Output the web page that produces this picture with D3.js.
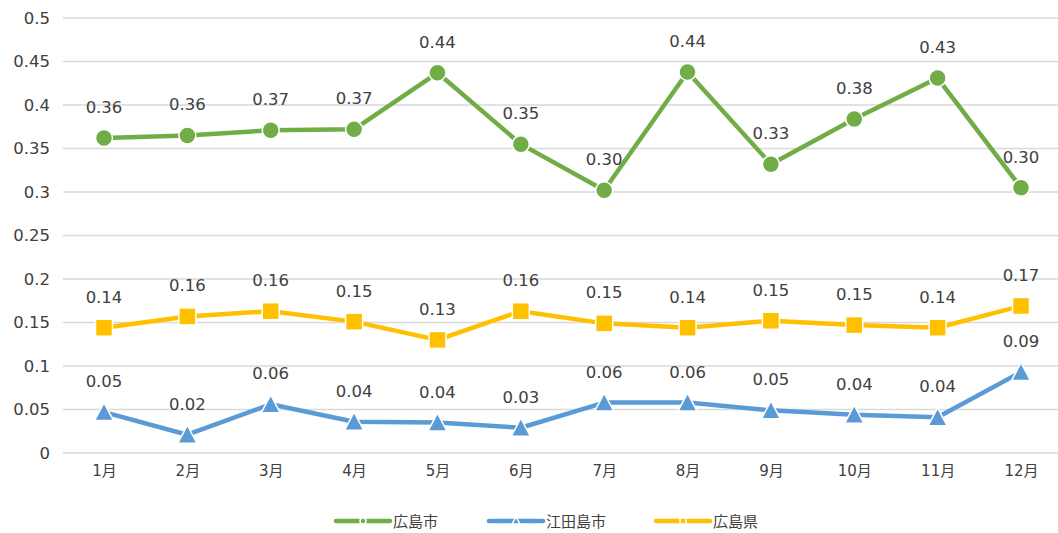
<!DOCTYPE html>
<html><head><meta charset="utf-8">
<script src="https://cdn.jsdelivr.net/npm/d3@7"></script>
<style>body{margin:0;background:#fff}svg{display:block;font-family:"DejaVu Sans","Noto Sans CJK JP",sans-serif}</style>
</head><body><svg id="c" width="1058" height="533"></svg>
<script>
const categories = ["1月","2月","3月","4月","5月","6月","7月","8月","9月","10月","11月","12月"];
const hiroshimaCity = [0.362,0.365,0.371,0.372,0.437,0.355,0.302,0.438,0.332,0.384,0.431,0.305];
const etajimaCity = [0.047,0.021,0.056,0.036,0.035,0.029,0.058,0.058,0.049,0.044,0.041,0.093];
const hiroshimaPref = [0.144,0.157,0.163,0.151,0.130,0.163,0.149,0.144,0.152,0.147,0.144,0.169];
const yTicks = [0,0.05,0.1,0.15,0.2,0.25,0.3,0.35,0.4,0.45,0.5];
const seriesNames = ["広島市","江田島市","広島県"];

const series = [
  {name: seriesNames[0], values: hiroshimaCity, color: "#70ad47", marker: "circle"},
  {name: seriesNames[1], values: etajimaCity, color: "#5b9bd5", marker: "triangle"},
  {name: seriesNames[2], values: hiroshimaPref, color: "#ffc000", marker: "square"}
];

const svg = d3.select("#c");
const x = d3.scalePoint().domain(categories).range([104, 1021]);
const y = d3.scaleLinear().domain([0, 0.5]).range([453, 18]);

svg.append("g").selectAll("line").data(yTicks).join("line")
  .attr("x1", 63).attr("x2", 1058)
  .attr("y1", d => y(d)).attr("y2", d => y(d))
  .attr("stroke", "#d9d9d9").attr("stroke-width", 1.5);

const yAxis = svg.append("g").attr("transform", "translate(50,0)")
  .call(d3.axisLeft(y).tickValues(yTicks).tickFormat(d => String(+d.toFixed(2))).tickSize(0).tickPadding(0));
yAxis.select(".domain").remove();
yAxis.selectAll("text").attr("font-size", 16.5).attr("fill", "#404040").attr("font-family", "DejaVu Sans");

const xAxis = svg.append("g").attr("transform", "translate(0,465)")
  .call(d3.axisBottom(x).tickSize(0).tickPadding(0));
xAxis.select(".domain").remove();
xAxis.selectAll("text").attr("font-size", 15).attr("fill", "#404040").attr("font-family", "DejaVu Sans, Noto Sans CJK JP");

function drawMarker(g, type, color, cx, cy) {
  if (type === "circle") {
    g.append("circle").attr("cx", cx).attr("cy", cy).attr("r", 8.5)
      .attr("fill", color).attr("stroke", "#fff").attr("stroke-width", 1.5);
  } else if (type === "square") {
    g.append("rect").attr("x", cx-8.5).attr("y", cy-8.5).attr("width", 17).attr("height", 17)
      .attr("fill", color).attr("stroke", "#fff").attr("stroke-width", 1.5);
  } else {
    const h = 17, w = 19;
    g.append("path").attr("d", `M${cx},${cy-h/2-1}L${cx+w/2},${cy+h/2}L${cx-w/2},${cy+h/2}Z`)
      .attr("fill", color).attr("stroke", "#fff").attr("stroke-width", 1.5);
  }
}

const line = d3.line().x((d,i) => x(categories[i])).y(d => y(d));
series.forEach(s => {
  const g = svg.append("g");
  g.append("path").datum(s.values).attr("d", line)
    .attr("fill", "none").attr("stroke", s.color).attr("stroke-width", 4.5).attr("stroke-linejoin", "round");
  s.values.forEach((v,i) => drawMarker(g, s.marker, s.color, x(categories[i]), y(v)));
  g.selectAll("text").data(s.values).join("text")
    .attr("x", (d,i) => x(categories[i])).attr("y", d => y(d) - 25)
    .attr("text-anchor", "middle").attr("font-size", 16.5).attr("fill", "#404040")
    .text(d => d.toFixed(2));
});

const legendX = [336, 489, 656];
series.forEach((s,i) => {
  const g = svg.append("g").attr("transform", `translate(${legendX[i]},521)`);
  g.append("line").attr("x1", 0).attr("x2", 54).attr("y1", 0).attr("y2", 0)
    .attr("stroke", s.color).attr("stroke-width", 4.5).attr("stroke-linecap", "round");
  if (s.marker === "circle") g.append("circle").attr("cx", 27).attr("cy", 0).attr("r", 3).attr("fill", s.color).attr("stroke", "#fff").attr("stroke-width", 1.5);
  else if (s.marker === "square") g.append("rect").attr("x", 24).attr("y", -3).attr("width", 6).attr("height", 6).attr("fill", s.color).attr("stroke", "#fff").attr("stroke-width", 1.5);
  else g.append("path").attr("d", "M27,-4L31,3L23,3Z").attr("fill", s.color).attr("stroke", "#fff").attr("stroke-width", 1.5);
  g.append("text").attr("x", 57).attr("y", 6).attr("font-size", 15).attr("fill", "#404040")
    .attr("font-family", "Noto Sans CJK JP").text(s.name);
});
</script></body></html>
